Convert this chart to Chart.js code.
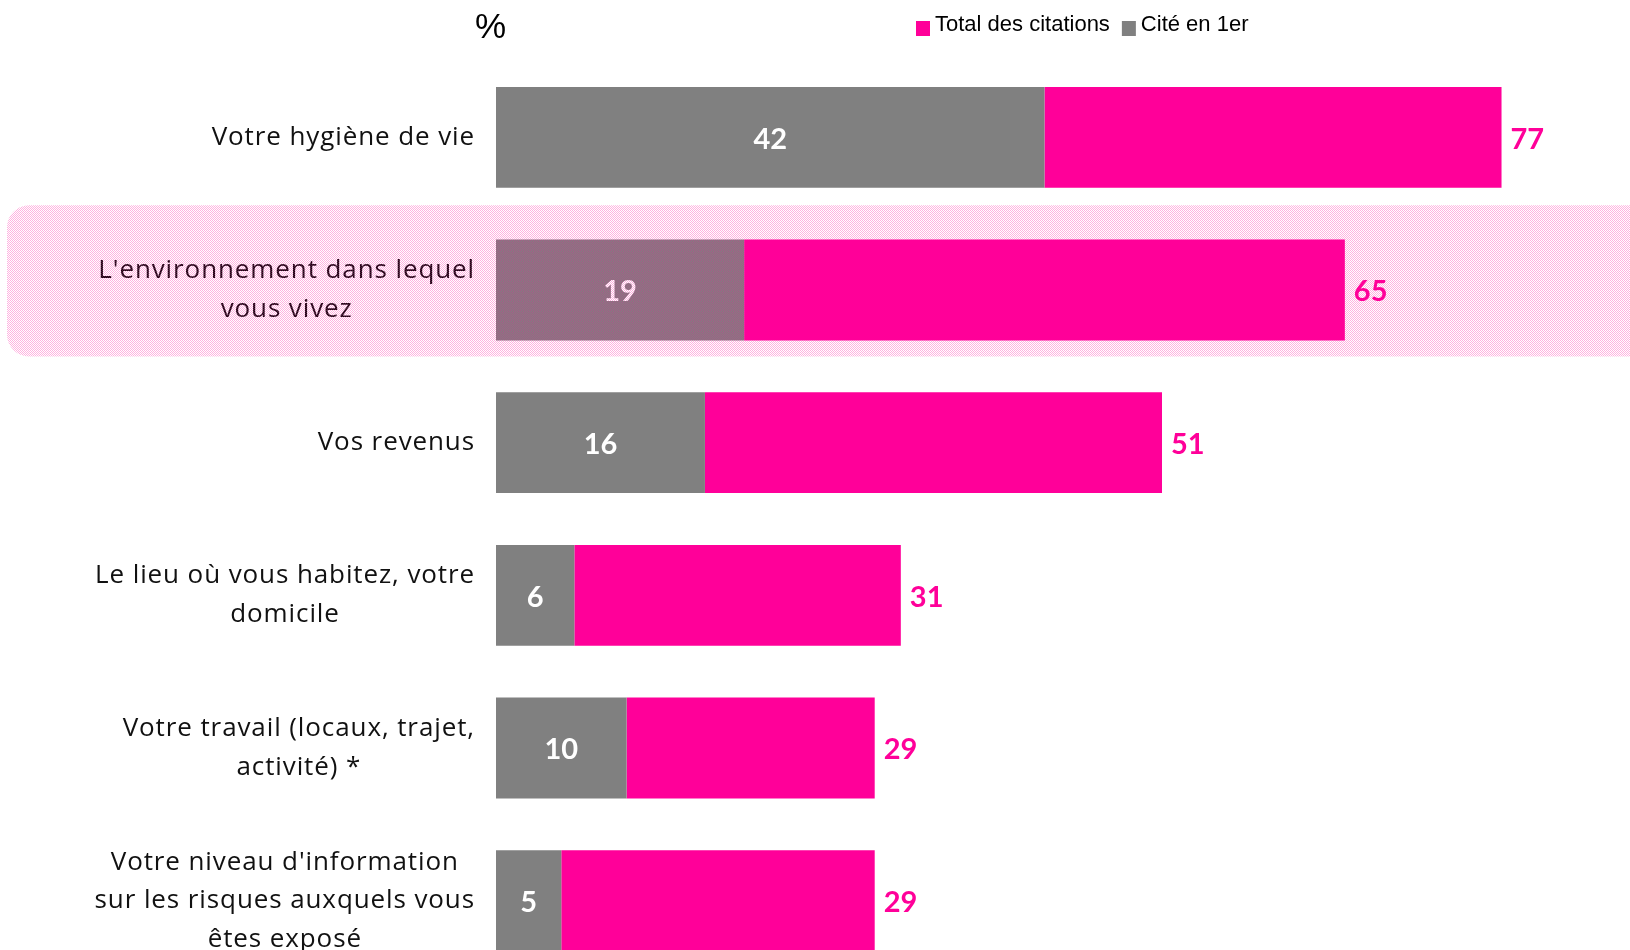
<!DOCTYPE html>
<html>
<head>
<meta charset="utf-8">
<script src="https://cdn.jsdelivr.net/npm/chart.js@4/dist/chart.umd.min.js"></script>
<style>
  html, body { margin: 0; padding: 0; background: #fff; overflow: hidden; }
  #wrap { position: relative; width: 1630px; height: 1000px; }
</style>
</head>
<body>
<div id="wrap"><canvas id="myChart"></canvas></div>
<script>
// categories (one array per line of the label)
var categories = [
  ["Votre hygiène de vie"],
  ["L'environnement dans lequel", "vous vivez"],
  ["Vos revenus"],
  ["Le lieu où vous habitez, votre", "domicile"],
  ["Votre travail (locaux, trajet,", "activité) *"],
  ["Votre niveau d'information", "sur les risques auxquels vous", "êtes exposé"]
];
var citeEn1er = [42, 19, 16, 6, 10, 5];      // gray
var totalCitations = [77, 65, 51, 31, 29, 29]; // pink, full length of bar
var highlighted = 1; // "L'environnement..." row

var PINK = '#ff0099';
var GRAY = '#808080';

// the rest of the pink bar once the gray part is stacked in front
var resteTotal = totalCitations.map(function (t, i) { return t - citeEn1er[i]; });

function dotPattern() { // little pink dotted tile, like the highlight in the picture
  var c = document.createElement('canvas');
  c.width = 4; c.height = 4;
  var g = c.getContext('2d');
  g.fillStyle = 'rgba(255,0,153,0.30)';
  var pts = [[0,0],[2,0],[1,1],[3,1],[0,2],[2,2],[1,3],[3,3]];
  pts.forEach(function (p) { g.fillRect(p[0], p[1], 1, 1); });
  return c;
}

var labelsPlugin = {
  id: 'labelsPlugin',
  afterDatasetsDraw: function (chart) {
    var ctx = chart.ctx;
    var yScale = chart.scales.y;
    var area = chart.chartArea;
    ctx.save();
    // category labels: block right aligned, lines centered in it
    ctx.font = '26px "Open Sans"';
    ctx.letterSpacing = '0.9px';
    ctx.fillStyle = '#111';
    ctx.textBaseline = 'middle';
    ctx.textAlign = 'center';
    var lineH = 38.5;
    categories.forEach(function (lines, i) {
      var y = yScale.getPixelForValue(i);
      var w = 0;
      lines.forEach(function (l) { w = Math.max(w, ctx.measureText(l).width); });
      var right = area.left - 21;
      var cx = right - w / 2;
      var y0 = y - (lines.length - 1) * lineH / 2;
      lines.forEach(function (l, k) { ctx.fillText(l, cx, y0 + k * lineH); });
    });
    ctx.letterSpacing = '0px';

    // values
    var grayMeta = chart.getDatasetMeta(0);
    var pinkMeta = chart.getDatasetMeta(1);
    ctx.font = 'bold 29px Lato';
    grayMeta.data.forEach(function (bar, i) {
      ctx.fillStyle = '#ffffff';
      ctx.textAlign = 'center';
      ctx.fillText(String(citeEn1er[i]), (bar.x + bar.base) / 2, bar.y + 2);
    });
    pinkMeta.data.forEach(function (bar, i) {
      ctx.fillStyle = PINK;
      ctx.textAlign = 'left';
      ctx.fillText(String(totalCitations[i]), bar.x + 9, bar.y + 2);
    });

    // highlight band over the second row
    var step = yScale.getPixelForValue(1) - yScale.getPixelForValue(0);
    var yc = yScale.getPixelForValue(highlighted);
    var top = yc - step * 0.555, bot = yc + step * 0.435;
    var left = 7, rad = 22, right = chart.width + 30;
    ctx.fillStyle = ctx.createPattern(dotPattern(), 'repeat');
    ctx.beginPath();
    ctx.moveTo(left + rad, top);
    ctx.lineTo(right, top);
    ctx.lineTo(right, bot);
    ctx.lineTo(left + rad, bot);
    ctx.arcTo(left, bot, left, bot - rad, rad);
    ctx.lineTo(left, top + rad);
    ctx.arcTo(left, top, left + rad, top, rad);
    ctx.closePath();
    ctx.fill();

    // "%" and legend at the top
    ctx.fillStyle = '#000';
    ctx.textAlign = 'left';
    ctx.font = '35px "Liberation Sans"';
    ctx.fillText('%', 475, 28);
    ctx.font = '22px "Liberation Sans"';
    var x = 916;
    [[PINK, 'Total des citations'], [GRAY, 'Cité en 1er']].forEach(function (it) {
      ctx.fillStyle = it[0];
      ctx.fillRect(x, 21, 14, 15);
      ctx.fillStyle = '#000';
      ctx.fillText(it[1], x + 19, 25);
      x += 19 + ctx.measureText(it[1]).width + 12;
    });
    ctx.restore();
  }
};

var ctx = document.getElementById('myChart').getContext('2d');
var chart = new Chart(ctx, {
  type: 'bar',
  data: {
    labels: categories,
    datasets: [
      {
        label: 'Cité en 1er',
        data: citeEn1er,
        backgroundColor: GRAY
      },
      {
        label: 'Total des citations',
        data: resteTotal,
        backgroundColor: PINK
      }
    ]
  },
  options: {
    indexAxis: 'y',
    responsive: true,
    maintainAspectRatio: false,
    animation: false,
    layout: { padding: { left: 496, right: 24, top: 61, bottom: 23 } },
    datasets: { bar: { categoryPercentage: 1, barPercentage: 0.66 } },
    scales: {
      x: { stacked: true, min: 0, max: 85, display: false },
      y: { stacked: true, display: false }
    },
    plugins: {
      legend: { display: false },
      tooltip: { enabled: false }
    }
  },
  plugins: [labelsPlugin]
});
</script>
</body>
</html>
